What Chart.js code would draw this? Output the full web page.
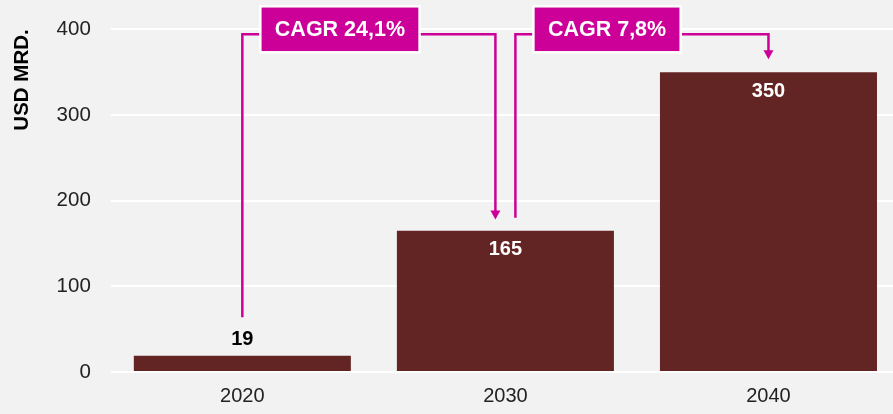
<!DOCTYPE html>
<html>
<head>
<meta charset="utf-8">
<script src="https://cdn.jsdelivr.net/npm/chart.js@4"></script>
<style>
  body { margin:0; background:#f2f2f2; overflow:hidden; }
  #wrap { width:900px; height:427px; margin-top:-3px; }
</style>
</head>
<body>
<div id="wrap"><canvas id="myChart"></canvas></div>
<script>
const years = ['2020', '2030', '2040']
const values = [19, 165, 350]
const cagrLabels = ['CAGR 24,1%', 'CAGR 7,8%']
// value levels where the connector lines start and where the arrows end
const cagrFrom = [64, 180]
const cagrTo = [178, 365]
const yTicks = [0, 100, 200, 300, 400]

const barColor = '#632523'
const pink = '#cc0099'

// value labels: above a short bar, inside a tall one
const valueLabels = {
    id: 'valueLabels',
    afterDatasetsDraw(chart) {
        const ctx = chart.ctx
        const meta = chart.getDatasetMeta(0)
        ctx.save()
        ctx.font = 'bold 20px "Liberation Sans", Arial, sans-serif'
        ctx.textAlign = 'center'
        meta.data.forEach((bar, i) => {
            const h = bar.base - bar.y
            if (h < 40) {
                ctx.fillStyle = '#000'
                ctx.textBaseline = 'bottom'
                ctx.fillText(values[i], bar.x, bar.y - 6)
            } else {
                ctx.fillStyle = '#fff'
                ctx.textBaseline = 'top'
                ctx.fillText(values[i], bar.x, bar.y + 9)
            }
        })
        ctx.restore()
    }
}

// CAGR boxes with connector arrows
const cagrArrows = {
    id: 'cagrArrows',
    afterDatasetsDraw(chart) {
        const ctx = chart.ctx
        const xs = chart.scales.x, ys = chart.scales.y
        const top = chart.chartArea.top
        const lineY = top + 5
        ctx.save()
        ctx.font = 'bold 21.5px "Liberation Sans", Arial, sans-serif'
        for (let i = 0; i < cagrLabels.length; i++) {
            let startX = xs.getPixelForValue(i)
            if (i > 0) startX += 10
            let endX = xs.getPixelForValue(i + 1)
            if (i + 1 < years.length - 1) endX -= 10
            const startY = ys.getPixelForValue(cagrFrom[i])
            const endY = ys.getPixelForValue(cagrTo[i])

            ctx.strokeStyle = pink
            ctx.lineWidth = 2.5
            ctx.beginPath()
            ctx.moveTo(startX, startY)
            ctx.lineTo(startX, lineY)
            ctx.lineTo(endX, lineY)
            ctx.lineTo(endX, endY - 8)
            ctx.stroke()
            // arrow head
            ctx.fillStyle = pink
            ctx.beginPath()
            ctx.moveTo(endX - 5, endY - 9)
            ctx.lineTo(endX + 5, endY - 9)
            ctx.lineTo(endX, endY)
            ctx.closePath()
            ctx.fill()

            // box
            const tw = ctx.measureText(cagrLabels[i]).width
            const bw = tw + 29, bh = 46
            const bx = startX + 18
            const by = top - 23
            ctx.fillStyle = pink
            ctx.fillRect(bx, by, bw, bh)
            ctx.strokeStyle = '#fff'
            ctx.lineWidth = 2.5
            ctx.strokeRect(bx, by, bw, bh)
            ctx.fillStyle = '#fff'
            ctx.textAlign = 'center'
            ctx.textBaseline = 'middle'
            ctx.fillText(cagrLabels[i], bx + bw / 2, by + bh / 2 + 1)
        }
        ctx.restore()
    }
}

var ctx = document.getElementById('myChart').getContext('2d')
var myChart = new Chart(ctx, {
    type: 'bar',
    data: {
        labels: years,
        datasets: [{
            data: values,
            backgroundColor: barColor,
            borderWidth: 0,
            categoryPercentage: 1,
            barPercentage: 0.825
        }]
    },
    options: {
        responsive: true,
        maintainAspectRatio: false,
        animation: false,
        layout: { padding: { top: 28, left: 10, right: 0, bottom: 4 } },
        plugins: {
            legend: { display: false },
            tooltip: { enabled: false }
        },
        scales: {
            x: {
                grid: { display: false, drawTicks: false },
                border: { display: false },
                ticks: {
                    color: '#222',
                    padding: 12,
                    font: { family: '"Liberation Sans", Arial, sans-serif', size: 20 }
                }
            },
            y: {
                min: 0,
                max: 400,
                afterBuildTicks(axis) { axis.ticks = yTicks.map(v => ({ value: v })) },
                grid: { color: '#ffffff', lineWidth: 2, drawTicks: false },
                border: { display: false },
                ticks: {
                    color: '#222',
                    padding: 20,
                    font: { family: '"Liberation Sans", Arial, sans-serif', size: 20.5 }
                },
                title: {
                    display: true,
                    text: 'USD MRD.',
                    align: 'end',
                    color: '#000',
                    padding: { top: 0, bottom: 2 },
                    font: { family: '"Liberation Sans", Arial, sans-serif', size: 20.5, weight: 'bold' }
                }
            }
        }
    },
    plugins: [valueLabels, cagrArrows]
})
</script>
</body>
</html>
